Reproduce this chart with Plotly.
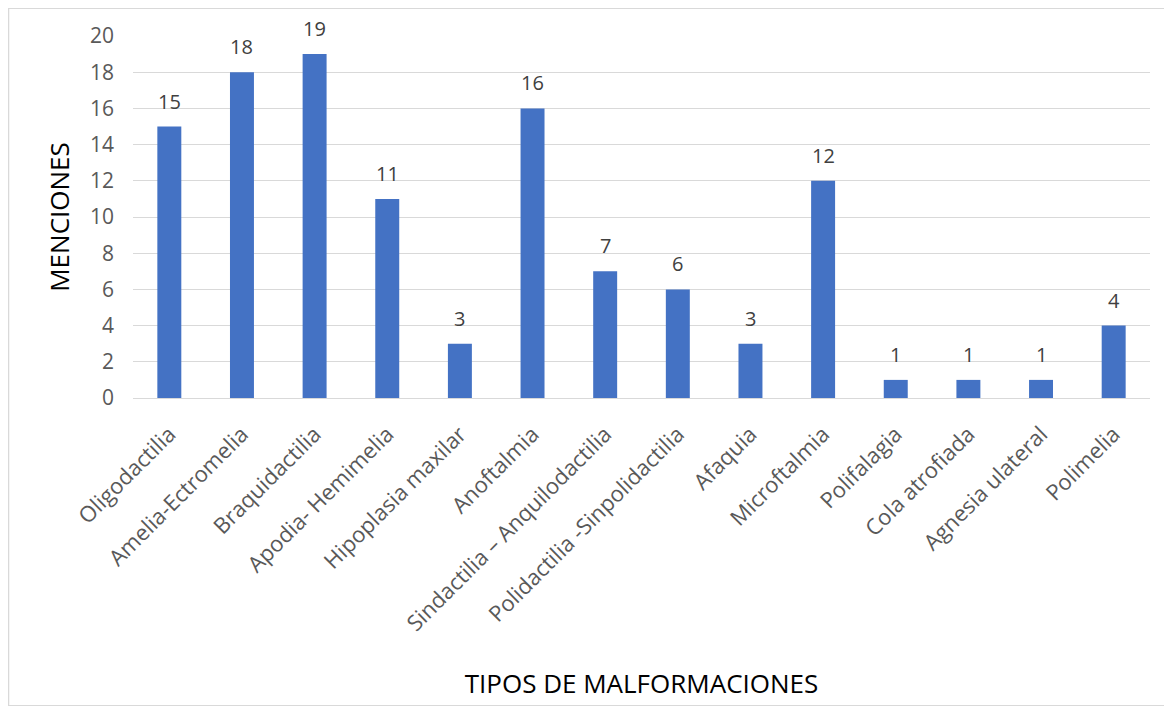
import plotly.graph_objects as go

categories = ["Oligodactilia", "Amelia-Ectromelia", "Braquidactilia", "Apodia- Hemimelia",
              "Hipoplasia maxilar", "Anoftalmia", "Sindactilia \u2013 Anquilodactilia",
              "Polidactilia -Sinpolidactilia", "Afaquia", "Microftalmia", "Polifalagia",
              "Cola atrofiada", "Agnesia ulateral", "Polimelia"]
menciones = [15, 18, 19, 11, 3, 16, 7, 6, 3, 12, 1, 1, 1, 4]
y_ticks = [0, 2, 4, 6, 8, 10, 12, 14, 16, 18, 20]

# page body has an 8px margin, so the figure is sized to fit within it
W, H = 1160, 698
ml, mr, mt, mb = 125, 18, 28, 308

fig = go.Figure(go.Bar(
    x=categories, y=menciones,
    marker=dict(color="#4472C4", line=dict(width=0)),
    cliponaxis=False,
))

for c, v in zip(categories, menciones):
    fig.add_annotation(x=c, y=v, text=str(v), showarrow=False, yanchor="bottom",
                       yshift=10, font=dict(family="Open Sans, Liberation Sans",
                                            size=20, color="#404040"))

pw, ph = W - ml - mr, H - mt - mb
fig.add_shape(type="rect", xref="paper", yref="paper",
              x0=-ml / pw + 0.0005, x1=1 + mr / pw + 0.01,
              y0=-mb / ph + 0.001, y1=1 + mt / ph - 0.001,
              line=dict(color="#D9D9D9", width=1.5), fillcolor="rgba(0,0,0,0)", layer="below")

fig.update_layout(
    width=W, height=H,
    margin=dict(l=ml, r=mr, t=mt, b=mb),
    plot_bgcolor="white", paper_bgcolor="white",
    bargap=0.67, showlegend=False,
    font=dict(family="Open Sans, Liberation Sans", color="#595959"),
    xaxis=dict(tickangle=-45, tickfont=dict(size=22, color="#595959"),
               showgrid=False, showline=False, ticks="", ticklabelstandoff=18,
               title=dict(text="TIPOS DE MALFORMACIONES", standoff=39,
                          font=dict(size=26, color="#000000"))),
    yaxis=dict(range=[0, 20], tickvals=y_ticks, tickfont=dict(size=21, color="#595959"),
               showgrid=True, gridcolor="#D9D9D9", gridwidth=1, zeroline=True,
               zerolinecolor="#D9D9D9", zerolinewidth=1, ticks="", ticklabelstandoff=18,
               title=dict(text="MENCIONES", standoff=12, font=dict(size=26, color="#000000"))),
)

fig.write_html("out.html")
